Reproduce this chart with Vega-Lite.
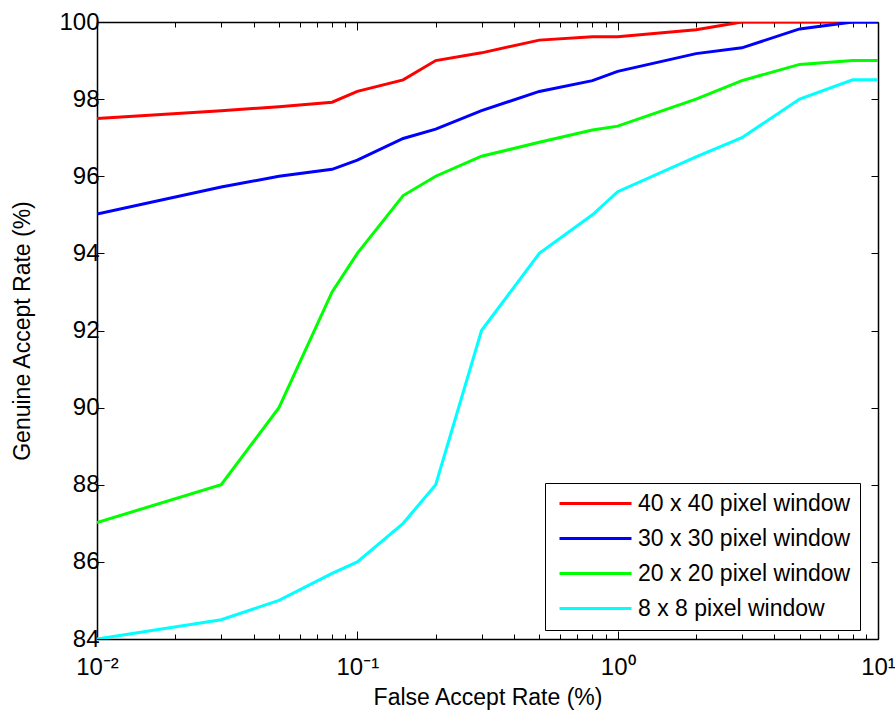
{
  "$schema": "https://vega.github.io/schema/vega-lite/v6.json",
  "width": 781,
  "height": 617,
  "autosize": {"type": "none"},
  "padding": {"left": 97, "top": 22, "right": 17, "bottom": 74},
  "background": "white",
  "config": {
    "font": "Liberation Sans",
    "view": {"stroke": null},
    "axis": {"grid": false, "domainColor": "black", "domainWidth": 1.5, "tickColor": "black", "tickWidth": 1, "labelColor": "black", "titleColor": "black", "labelFont": "Liberation Sans", "titleFont": "Liberation Sans", "labelFontSize": 24, "titleFontSize": 23, "titleFontWeight": "normal"}
  },
  "data": {"values": [
    {"far": 0.01, "gar": 97.5, "series": "40 x 40 pixel window"},
    {"far": 0.03, "gar": 97.7, "series": "40 x 40 pixel window"},
    {"far": 0.05, "gar": 97.8, "series": "40 x 40 pixel window"},
    {"far": 0.08, "gar": 97.92, "series": "40 x 40 pixel window"},
    {"far": 0.1, "gar": 98.2, "series": "40 x 40 pixel window"},
    {"far": 0.15, "gar": 98.5, "series": "40 x 40 pixel window"},
    {"far": 0.2, "gar": 99.0, "series": "40 x 40 pixel window"},
    {"far": 0.3, "gar": 99.2, "series": "40 x 40 pixel window"},
    {"far": 0.5, "gar": 99.53, "series": "40 x 40 pixel window"},
    {"far": 0.8, "gar": 99.62, "series": "40 x 40 pixel window"},
    {"far": 1, "gar": 99.62, "series": "40 x 40 pixel window"},
    {"far": 2, "gar": 99.8, "series": "40 x 40 pixel window"},
    {"far": 3, "gar": 100, "series": "40 x 40 pixel window"},
    {"far": 5, "gar": 100, "series": "40 x 40 pixel window"},
    {"far": 8, "gar": 100, "series": "40 x 40 pixel window"},
    {"far": 10, "gar": 100, "series": "40 x 40 pixel window"},
    {"far": 0.01, "gar": 95.02, "series": "30 x 30 pixel window"},
    {"far": 0.03, "gar": 95.72, "series": "30 x 30 pixel window"},
    {"far": 0.05, "gar": 96.0, "series": "30 x 30 pixel window"},
    {"far": 0.08, "gar": 96.18, "series": "30 x 30 pixel window"},
    {"far": 0.1, "gar": 96.42, "series": "30 x 30 pixel window"},
    {"far": 0.15, "gar": 96.98, "series": "30 x 30 pixel window"},
    {"far": 0.2, "gar": 97.22, "series": "30 x 30 pixel window"},
    {"far": 0.3, "gar": 97.7, "series": "30 x 30 pixel window"},
    {"far": 0.5, "gar": 98.2, "series": "30 x 30 pixel window"},
    {"far": 0.8, "gar": 98.48, "series": "30 x 30 pixel window"},
    {"far": 1, "gar": 98.72, "series": "30 x 30 pixel window"},
    {"far": 2, "gar": 99.18, "series": "30 x 30 pixel window"},
    {"far": 3, "gar": 99.33, "series": "30 x 30 pixel window"},
    {"far": 5, "gar": 99.82, "series": "30 x 30 pixel window"},
    {"far": 8, "gar": 100, "series": "30 x 30 pixel window"},
    {"far": 10, "gar": 100, "series": "30 x 30 pixel window"},
    {"far": 0.01, "gar": 87.02, "series": "20 x 20 pixel window"},
    {"far": 0.03, "gar": 88.0, "series": "20 x 20 pixel window"},
    {"far": 0.05, "gar": 90.0, "series": "20 x 20 pixel window"},
    {"far": 0.08, "gar": 93.0, "series": "20 x 20 pixel window"},
    {"far": 0.1, "gar": 94.0, "series": "20 x 20 pixel window"},
    {"far": 0.15, "gar": 95.5, "series": "20 x 20 pixel window"},
    {"far": 0.2, "gar": 96.0, "series": "20 x 20 pixel window"},
    {"far": 0.3, "gar": 96.52, "series": "20 x 20 pixel window"},
    {"far": 0.5, "gar": 96.88, "series": "20 x 20 pixel window"},
    {"far": 0.8, "gar": 97.2, "series": "20 x 20 pixel window"},
    {"far": 1, "gar": 97.3, "series": "20 x 20 pixel window"},
    {"far": 2, "gar": 98.0, "series": "20 x 20 pixel window"},
    {"far": 3, "gar": 98.48, "series": "20 x 20 pixel window"},
    {"far": 5, "gar": 98.9, "series": "20 x 20 pixel window"},
    {"far": 8, "gar": 99.0, "series": "20 x 20 pixel window"},
    {"far": 10, "gar": 99.0, "series": "20 x 20 pixel window"},
    {"far": 0.01, "gar": 84.0, "series": "8 x 8 pixel window"},
    {"far": 0.03, "gar": 84.5, "series": "8 x 8 pixel window"},
    {"far": 0.05, "gar": 85.0, "series": "8 x 8 pixel window"},
    {"far": 0.08, "gar": 85.7, "series": "8 x 8 pixel window"},
    {"far": 0.1, "gar": 86.0, "series": "8 x 8 pixel window"},
    {"far": 0.15, "gar": 87.0, "series": "8 x 8 pixel window"},
    {"far": 0.2, "gar": 88.0, "series": "8 x 8 pixel window"},
    {"far": 0.3, "gar": 92.0, "series": "8 x 8 pixel window"},
    {"far": 0.5, "gar": 94.0, "series": "8 x 8 pixel window"},
    {"far": 0.8, "gar": 95.0, "series": "8 x 8 pixel window"},
    {"far": 1, "gar": 95.6, "series": "8 x 8 pixel window"},
    {"far": 2, "gar": 96.5, "series": "8 x 8 pixel window"},
    {"far": 3, "gar": 97.0, "series": "8 x 8 pixel window"},
    {"far": 5, "gar": 98.0, "series": "8 x 8 pixel window"},
    {"far": 8, "gar": 98.5, "series": "8 x 8 pixel window"},
    {"far": 10, "gar": 98.5, "series": "8 x 8 pixel window"}
  ]},
  "layer": [
    {
      "mark": {"type": "line", "strokeWidth": 0, "opacity": 0},
      "encoding": {
        "x": {"field": "far", "type": "quantitative", "scale": {"type": "log", "domain": [0.01, 10]},
          "axis": {"orient": "top", "title": null, "labels": false,
            "values": [0.01,0.02,0.03,0.04,0.05,0.06,0.07,0.08,0.09,0.1,0.2,0.3,0.4,0.5,0.6,0.7,0.8,0.9,1,2,3,4,5,6,7,8,9,10],
            "tickSize": {"condition": {"test": "datum.value==0.01||datum.value==0.1||datum.value==1||datum.value==10", "value": -8}, "value": -5}}},
        "y": {"field": "gar", "type": "quantitative", "scale": {"domain": [84, 100]},
          "axis": {"orient": "right", "title": null, "labels": false, "values": [84,86,88,90,92,94,96,98,100], "tickSize": -7}}
      }
    },
    {
      "mark": {"type": "line", "strokeWidth": 3, "clip": true},
      "encoding": {
        "x": {"field": "far", "type": "quantitative", "scale": {"type": "log", "domain": [0.01, 10]},
          "axis": {"orient": "bottom", "title": "False Accept Rate (%)", "titlePadding": 4,
            "values": [0.01,0.02,0.03,0.04,0.05,0.06,0.07,0.08,0.09,0.1,0.2,0.3,0.4,0.5,0.6,0.7,0.8,0.9,1,2,3,4,5,6,7,8,9,10],
            "labelExpr": "datum.value==0.01 ? '10⁻²' : datum.value==0.1 ? '10⁻¹' : datum.value==1 ? '10⁰' : datum.value==10 ? '10¹' : ''",
            "labelOverlap": false, "labelFlush": false, "labelBound": false, "labelPadding": 24,
            "tickSize": {"condition": {"test": "datum.value==0.01||datum.value==0.1||datum.value==1||datum.value==10", "value": -8}, "value": -5}}},
        "y": {"field": "gar", "type": "quantitative", "scale": {"domain": [84, 100]},
          "axis": {"orient": "left", "title": "Genuine Accept Rate (%)", "values": [84,86,88,90,92,94,96,98,100], "tickSize": -7, "labelPadding": 5, "titlePadding": 24, "labelFlush": false, "labelBound": false}},
        "color": {"field": "series", "type": "nominal",
          "scale": {"domain": ["40 x 40 pixel window", "30 x 30 pixel window", "20 x 20 pixel window", "8 x 8 pixel window"], "range": ["#ff0000", "#0000ff", "#00ff00", "#00ffff"]},
          "legend": {"orient": "none", "legendX": 448, "legendY": 461, "title": null, "symbolType": "M-0.6,0H6.6", "symbolSize": 400, "symbolStrokeWidth": 3, "labelFontSize": 23, "labelFont": "Liberation Sans", "labelColor": "black", "labelOffset": 61, "labelLimit": 400, "rowPadding": 11, "padding": 9, "strokeColor": "black", "fillColor": "white", "cornerRadius": 0}}
      }
    }
  ],
  "resolve": {"scale": {"x": "independent", "y": "independent"}}
}
